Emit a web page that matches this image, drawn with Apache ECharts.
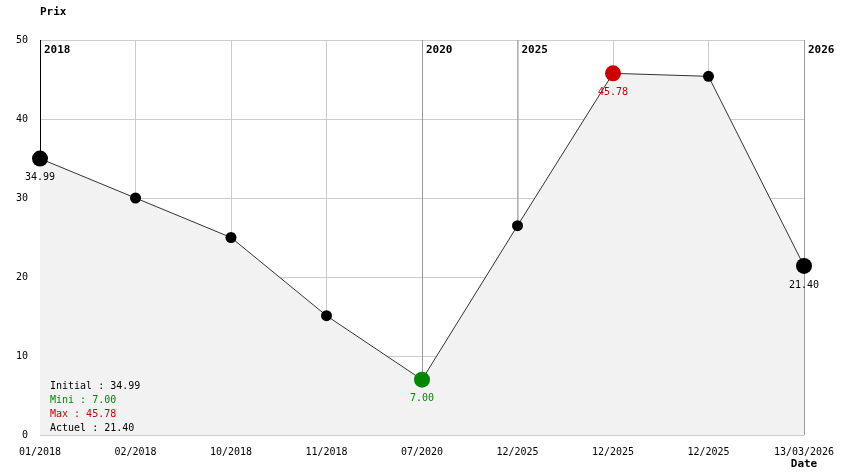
<!DOCTYPE html>
<html><head><meta charset="utf-8">
<script src="https://cdn.jsdelivr.net/npm/echarts@6/dist/echarts.min.js"></script>
<style>html,body{margin:0;padding:0;background:#fff}#c{width:844px;height:474px}</style>
</head><body><div id="c"></div>
<script>
var categories = ['01/2018','02/2018','10/2018','11/2018','07/2020','12/2025','12/2025','12/2025','13/03/2026'];
var prices = [34.99, 30.0, 25.0, 15.1, 7.00, 26.5, 45.78, 45.4, 21.40];
var yearIdx = [0, 4, 5, 8];
var yearLabels = ['2018', '2020', '2025', '2026'];
var yTicks = [0, 10, 20, 30, 40, 50];

var FONT = '"DejaVu Sans Mono", monospace';
var GREEN = '#008800', RED = '#cc0000';
var initial = prices[0], current = prices[prices.length - 1];
var minV = Math.min.apply(null, prices), maxV = Math.max.apply(null, prices);
var minI = prices.indexOf(minV), maxI = prices.indexOf(maxV);

var lineData = prices.map(function (v, i) {
  var d = { value: v };
  var big = (i === 0 || i === prices.length - 1 || i === minI || i === maxI);
  var col = i === minI ? GREEN : (i === maxI ? RED : '#000');
  d.symbolSize = big ? 16 : 11;
  d.itemStyle = { color: col };
  if (big) d.label = { show: true, position: 'bottom', distance: 6, color: col, fontFamily: FONT, fontSize: 10,
    formatter: function (p) { return p.value.toFixed(2); } };
  return d;
});

var chart = echarts.init(document.getElementById('c'));
chart.setOption({
  animation: false,
  backgroundColor: '#fff',
  grid: { left: 40, right: 40, top: 40, bottom: 39, outerBoundsMode: 'none', containLabel: false },
  xAxis: {
    type: 'category', data: categories, boundaryGap: false,
    axisLine: { show: false }, axisTick: { show: false },
    axisLabel: { color: '#000', fontFamily: FONT, fontSize: 10, margin: 12, interval: 0 },
    splitLine: { show: true, lineStyle: { color: '#cccccc', width: 1 } },
    name: 'Date', nameLocation: 'end', nameGap: 0,
    nameTextStyle: { color: '#000', fontFamily: FONT, fontSize: 11, fontWeight: 'bold', align: 'center', verticalAlign: 'top', padding: [24, 0, 0, 0] }
  },
  yAxis: {
    type: 'value', min: yTicks[0], max: yTicks[yTicks.length - 1], interval: 10,
    axisLine: { show: false }, axisTick: { show: false },
    axisLabel: { color: '#000', fontFamily: FONT, fontSize: 10, margin: 12 },
    splitLine: { show: true, lineStyle: { color: '#cccccc', width: 1 } },
    name: 'Prix', nameLocation: 'end', nameGap: 22,
    nameTextStyle: { color: '#000', fontFamily: FONT, fontSize: 11, fontWeight: 'bold', align: 'left' }
  },
  graphic: [
    { type: 'text', left: 50, top: 381, z: 100, style: { text: 'Initial : ' + initial.toFixed(2), fill: '#000', font: '10px ' + FONT } },
    { type: 'text', left: 50, top: 395, z: 100, style: { text: 'Mini : ' + minV.toFixed(2), fill: GREEN, font: '10px ' + FONT } },
    { type: 'text', left: 50, top: 409, z: 100, style: { text: 'Max : ' + maxV.toFixed(2), fill: RED, font: '10px ' + FONT } },
    { type: 'text', left: 50, top: 423, z: 100, style: { text: 'Actuel : ' + current.toFixed(2), fill: '#000', font: '10px ' + FONT } }
  ],
  series: [
    {
      type: 'custom', z: 1, silent: true,
      data: yearIdx.map(function (x, k) { return [x, yearLabels[k]]; }),
      encode: { x: 0 },
      renderItem: function (params, api) {
        var idx = api.value(0);
        var top = api.coord([idx, yTicks[yTicks.length - 1]]);
        var bot = api.coord([idx, yTicks[0]]);
        var col = params.dataIndex === 0 ? '#000' : '#999';
        return { type: 'group', children: [
          { type: 'line', shape: { x1: top[0] + 0.5, y1: top[1], x2: bot[0] + 0.5, y2: bot[1] }, style: { stroke: col, lineWidth: 1 } },
          { type: 'text', x: top[0] + 4, y: top[1] + 5, style: { text: yearLabels[params.dataIndex], fill: '#000', font: 'bold 11px ' + FONT, textVerticalAlign: 'top' } }
        ] };
      }
    },
    {
      type: 'line', z: 2, data: lineData, symbol: 'circle',
      lineStyle: { color: '#333', width: 1 },
      areaStyle: { color: '#f2f2f2', opacity: 1 },
      itemStyle: { color: '#000' }
    }
  ]
});
</script></body></html>
